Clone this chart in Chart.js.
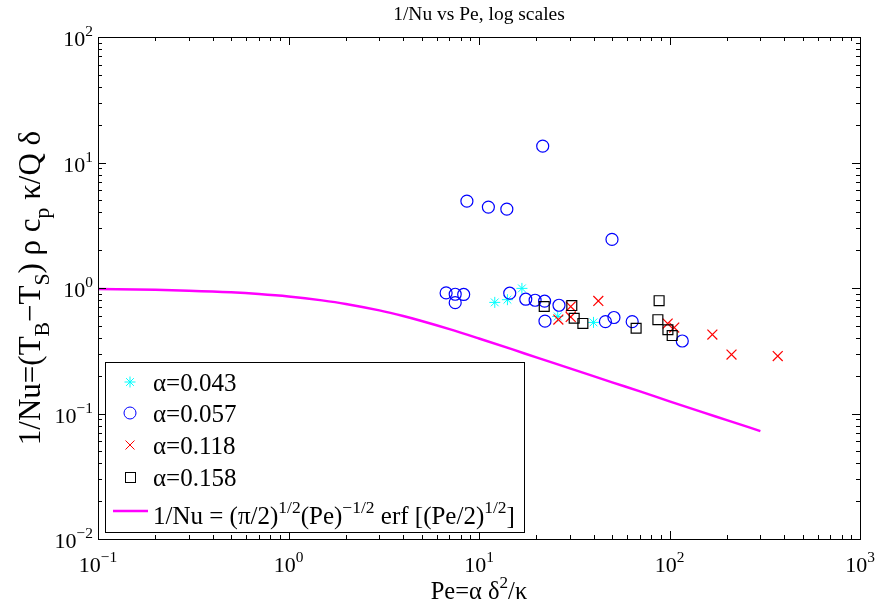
<!DOCTYPE html>
<html>
<head>
<meta charset="utf-8">
<script src="https://cdn.jsdelivr.net/npm/chart.js@4.4.1/dist/chart.umd.min.js"></script>
<style>
  html, body { margin: 0; padding: 0; background: #fff; }
  #wrap { width: 876px; height: 609px; }
</style>
</head>
<body>
<div id="wrap"><canvas id="chart" width="876" height="609"></canvas></div>
<script>
// alpha = 0.043 (cyan stars)
const pe043 = [12.1, 14.1, 16.8, 25.9, 39.9]
const nu043 = [0.768, 0.807, 0.993, 0.593, 0.532]
// alpha = 0.057 (blue circles)
const pe057 = [21.6, 8.64, 11.2, 14.0, 49.9, 6.72, 7.50, 8.31, 7.50, 14.5, 17.6, 19.7, 22.1, 26.3, 22.2, 46.1, 51.1, 63.7, 116.7]
const nu057 = [13.5, 4.92, 4.41, 4.25, 2.44, 0.914, 0.892, 0.888, 0.764, 0.909, 0.814, 0.799, 0.785, 0.729, 0.544, 0.539, 0.582, 0.539, 0.378]
// alpha = 0.118 (red crosses)
const pe118 = [26.1, 30.3, 30.3, 42.3, 97.8, 105.9, 167.9, 211.6, 370]
const nu118 = [0.561, 0.712, 0.588, 0.789, 0.521, 0.484, 0.426, 0.295, 0.287]
// alpha = 0.158 (black squares)
const pe158 = [22.0, 30.7, 31.6, 35.1, 66.8, 88.2, 86.9, 98.1, 103.3]
const nu158 = [0.712, 0.725, 0.574, 0.522, 0.478, 0.792, 0.559, 0.465, 0.418]
// theory curve
const peCurve = [0.1, 0.2, 0.3, 0.5, 0.7, 1, 1.5, 2, 3, 4, 5, 7, 10, 15, 20, 30, 50, 70, 100, 150, 200, 300]
const nuCurve = [0.984, 0.968, 0.952, 0.923, 0.895, 0.856, 0.797, 0.747, 0.663, 0.598, 0.546, 0.470, 0.396, 0.324, 0.280, 0.229, 0.177, 0.150, 0.125, 0.102, 0.0886, 0.0724]

const xDecades = [0.1, 1, 10, 100, 1000]
const xExps = ['−1', '0', '1', '2', '3']
const yDecades = [0.01, 0.1, 1, 10, 100]
const yExps = ['−2', '−1', '0', '1', '2']

const legendLabels = ['α=0.043', 'α=0.057', 'α=0.118', 'α=0.158']

const FONT = '"Liberation Serif", "Times New Roman", serif'
const font = size => size + 'px ' + FONT

const toXY = (xs, ys) => xs.map((x, i) => ({ x: x, y: ys[i] }))

function richWidth(ctx, parts, size) {
   let w = 0
   for (const [t, k] of parts) {
      ctx.font = font(k ? size * 0.7 : size)
      w += ctx.measureText(t).width
   }
   return w
}

// parts: [text, ''|'sup'|'sub'], y is the baseline
function drawRich(ctx, parts, x, y, size, align) {
   const w = richWidth(ctx, parts, size)
   let cx = x
   if (align === 'center') cx = x - w / 2
   if (align === 'right') cx = x - w
   ctx.textAlign = 'left'
   ctx.textBaseline = 'alphabetic'
   for (const [t, k] of parts) {
      ctx.font = font(k ? size * 0.7 : size)
      let dy = 0
      if (k === 'sup') dy = -size * 0.45
      if (k === 'sub') dy = size * 0.28
      ctx.fillText(t, cx, y + dy)
      cx += ctx.measureText(t).width
   }
}

function legendMarker(ctx, i, x, y) {
   ctx.save()
   ctx.lineWidth = 1
   if (i === 0) {
      ctx.strokeStyle = '#00ffff'
      ctx.beginPath()
      for (let a = 0; a < 4; a++) {
         const ang = a * Math.PI / 4
         ctx.moveTo(x - 5.5 * Math.cos(ang), y - 5.5 * Math.sin(ang))
         ctx.lineTo(x + 5.5 * Math.cos(ang), y + 5.5 * Math.sin(ang))
      }
      ctx.stroke()
   } else if (i === 1) {
      ctx.strokeStyle = '#0000ff'
      ctx.beginPath()
      ctx.arc(x, y, 6, 0, Math.PI * 2)
      ctx.stroke()
   } else if (i === 2) {
      ctx.strokeStyle = '#ff0000'
      ctx.beginPath()
      ctx.moveTo(x - 4.5, y - 4.5); ctx.lineTo(x + 4.5, y + 4.5)
      ctx.moveTo(x - 4.5, y + 4.5); ctx.lineTo(x + 4.5, y - 4.5)
      ctx.stroke()
   } else {
      ctx.strokeStyle = '#000'
      ctx.strokeRect(x - 4.5, y - 4.5, 10, 10)
   }
   ctx.restore()
}

const matlabAxes = {
   id: 'matlabAxes',
   afterDraw(chart) {
      const ctx = chart.ctx
      const xs = chart.scales.x
      const ys = chart.scales.y
      const { left, right, top, bottom } = chart.chartArea
      const r = v => Math.round(v) + 0.5

      ctx.save()
      ctx.strokeStyle = '#000'
      ctx.fillStyle = '#000'
      ctx.lineWidth = 1

      // ticks pointing inward, all four sides
      ctx.beginPath()
      xDecades.forEach((d, i) => {
         for (let k = 1; k <= 9; k++) {
            if (k > 1 && i === xDecades.length - 1) break
            const px = r(xs.getPixelForValue(d * k))
            const len = k === 1 ? 8 : 4
            ctx.moveTo(px, bottom); ctx.lineTo(px, bottom - len)
            ctx.moveTo(px, top); ctx.lineTo(px, top + len)
         }
      })
      yDecades.forEach((d, i) => {
         for (let k = 1; k <= 9; k++) {
            if (k > 1 && i === yDecades.length - 1) break
            const py = r(ys.getPixelForValue(d * k))
            const len = k === 1 ? 8 : 4
            ctx.moveTo(left, py); ctx.lineTo(left + len, py)
            ctx.moveTo(right, py); ctx.lineTo(right - len, py)
         }
      })
      ctx.stroke()
      ctx.strokeRect(r(left), r(top), Math.round(right - left), Math.round(bottom - top))

      // tick labels
      const tickSize = 22
      xDecades.forEach((d, i) => {
         const px = xs.getPixelForValue(d)
         drawRich(ctx, [['10', ''], [xExps[i], 'sup']], px, bottom + 33, tickSize, 'center')
      })
      yDecades.forEach((d, i) => {
         const py = ys.getPixelForValue(d)
         drawRich(ctx, [['10', ''], [yExps[i], 'sup']], left - 5, py + 9, tickSize, 'right')
      })

      // title and axis labels
      drawRich(ctx, [['1/Nu vs Pe, log scales', '']], (left + right) / 2, 20, 19.5, 'center')
      drawRich(ctx, [['Pe=α δ', ''], ['2', 'sup'], ['/κ', '']], (left + right) / 2, 599, 24.5, 'center')
      ctx.save()
      ctx.translate(40, (top + bottom) / 2)
      ctx.rotate(-Math.PI / 2)
      drawRich(ctx, [['1/Nu=(T', ''], ['B', 'sub'], ['−T', ''], ['S', 'sub'], [') ρ c', ''], ['p', 'sub'], [' κ/Q δ', '']], 0, 0, 31, 'center')
      ctx.restore()

      // legend
      const lx = 105, ly = 362, lw = 419, lh = 170
      ctx.fillStyle = '#fff'
      ctx.fillRect(lx, ly, lw, lh)
      ctx.strokeRect(lx + 0.5, ly + 0.5, lw, lh)
      ctx.fillStyle = '#000'
      const rowY = [382, 413, 445, 477]
      legendLabels.forEach((lab, i) => {
         legendMarker(ctx, i, 130, rowY[i])
         drawRich(ctx, [[lab, '']], 153, rowY[i] + 9, 25, 'left')
      })
      ctx.strokeStyle = '#ff00ff'
      ctx.lineWidth = 2.5
      ctx.beginPath()
      ctx.moveTo(113, 511); ctx.lineTo(148, 511)
      ctx.stroke()
      drawRich(ctx, [
         ['1/Nu = (π/2)', ''], ['1/2', 'sup'], ['(Pe)', ''], ['−1/2', 'sup'],
         [' erf [(Pe/2)', ''], ['1/2', 'sup'], [']', '']
      ], 153, 524, 25, 'left')
      ctx.restore()
   }
}

new Chart(document.getElementById('chart'), {
   type: 'scatter',
   data: {
      datasets: [
         {
            label: legendLabels[0],
            data: toXY(pe043, nu043),
            pointStyle: 'star',
            pointRadius: 5.5,
            pointBorderColor: '#00ffff',
            pointBackgroundColor: '#00ffff',
            pointBorderWidth: 1,
            order: 4
         },
         {
            label: legendLabels[1],
            data: toXY(pe057, nu057),
            pointStyle: 'circle',
            pointRadius: 6,
            pointBorderColor: '#0000ff',
            pointBackgroundColor: 'rgba(0,0,0,0)',
            pointBorderWidth: 1.2,
            order: 3
         },
         {
            label: legendLabels[2],
            data: toXY(pe118, nu118),
            pointStyle: 'crossRot',
            pointRadius: 7,
            pointBorderColor: '#ff0000',
            pointBackgroundColor: '#ff0000',
            pointBorderWidth: 1.2,
            order: 2
         },
         {
            label: legendLabels[3],
            data: toXY(pe158, nu158),
            pointStyle: 'rect',
            pointRadius: 7,
            pointBorderColor: '#000000',
            pointBackgroundColor: 'rgba(0,0,0,0)',
            pointBorderWidth: 1.2,
            order: 1
         },
         {
            type: 'line',
            label: '1/Nu theory',
            data: toXY(peCurve, nuCurve),
            borderColor: '#ff00ff',
            borderWidth: 2.5,
            pointRadius: 0,
            showLine: true,
            cubicInterpolationMode: 'monotone',
            fill: false,
            order: 0
         }
      ]
   },
   options: {
      responsive: false,
      animation: false,
      events: [],
      devicePixelRatio: 1,
      layout: { padding: { left: 98, top: 37, right: 16, bottom: 70 } },
      scales: {
         x: { type: 'logarithmic', min: 0.1, max: 1000, display: false },
         y: { type: 'logarithmic', min: 0.01, max: 100, display: false }
      },
      plugins: {
         legend: { display: false },
         tooltip: { enabled: false }
      }
   },
   plugins: [matlabAxes]
})
</script>
</body>
</html>
